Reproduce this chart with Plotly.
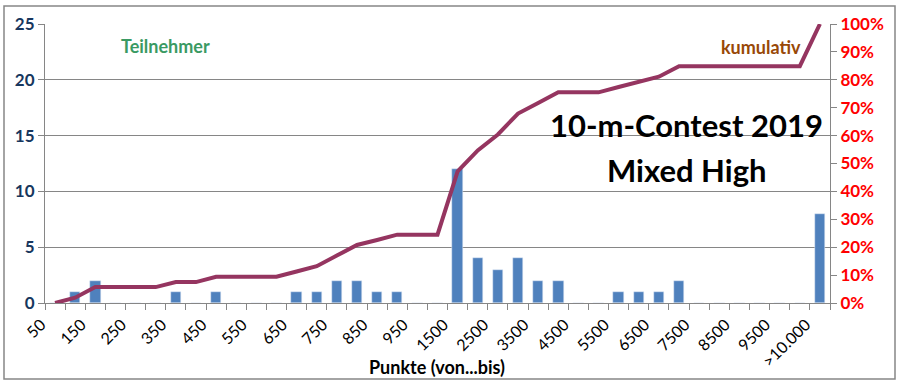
import plotly.graph_objects as go

categories = ["50", "100", "150", "200", "250", "300", "350", "400", "450", "500",
              "550", "600", "650", "700", "750", "800", "850", "900", "950", "1000",
              "1500", "2000", "2500", "3000", "3500", "4000", "4500", "5000", "5500", "6000",
              "6500", "7000", "7500", "8000", "8500", "9000", "9500", "10000", ">10.000"]
teilnehmer = [0, 1, 2, 0, 0, 0, 1, 0, 1, 0,
              0, 0, 1, 1, 2, 2, 1, 1, 0, 0,
              12, 4, 3, 4, 2, 2, 0, 0, 1, 1,
              1, 2, 0, 0, 0, 0, 0, 0, 8]
kumulativ = [0.0, 1.9, 5.7, 5.7, 5.7, 5.7, 7.5, 7.5, 9.4, 9.4,
             9.4, 9.4, 11.3, 13.2, 17.0, 20.8, 22.6, 24.5, 24.5, 24.5,
             47.2, 54.7, 60.4, 67.9, 71.7, 75.5, 75.5, 75.5, 77.4, 79.2,
             81.1, 84.9, 84.9, 84.9, 84.9, 84.9, 84.9, 84.9, 100.0]
left_ticks = [0, 5, 10, 15, 20, 25]
right_ticks = [0, 10, 20, 30, 40, 50, 60, 70, 80, 90, 100]

x = list(range(len(categories)))
FONT = "Lato"
GRID = "#868686"

fig = go.Figure()
fig.add_trace(go.Bar(x=x, y=teilnehmer, marker_color="#4F81BD", width=0.52,
                     name="Teilnehmer", yaxis="y"))
fig.add_trace(go.Scatter(x=x, y=[v / 100 for v in kumulativ], mode="lines",
                         line=dict(color="#953560", width=4), yaxis="y2",
                         cliponaxis=False, name="kumulativ"))

fig.update_layout(
    width=902, height=387,
    margin=dict(l=45, r=72, t=24, b=84),
    paper_bgcolor="white", plot_bgcolor="white",
    showlegend=False,
    bargap=0,
    font=dict(family=FONT),
    xaxis=dict(
        range=[-0.5, len(categories) - 0.5], automargin=False,
        tickmode="array", tickvals=x[::2], ticktext=categories[::2],
        ticklabelshift=-14, ticklabelstandoff=5,
        tickangle=-45, ticks="", showgrid=False, zeroline=False,
        showline=True, linecolor=GRID, linewidth=1,
        tickfont=dict(family=FONT, size=16, color="black"),
        minor=dict(tickmode="linear", tick0=-0.5, dtick=1, ticks="outside",
                   ticklen=6, tickcolor=GRID, showgrid=False),
    ),
    yaxis=dict(
        range=[0, 25], tickmode="array", tickvals=left_ticks, automargin=False,
        ticks="outside", ticklen=6, tickcolor=GRID,
        showgrid=True, gridcolor=GRID, gridwidth=1, zeroline=False,
        showline=True, linecolor=GRID,
        tickfont=dict(family=FONT, size=17, color="#17375E", weight="bold"),
    ),
    yaxis2=dict(
        range=[0, 1], overlaying="y", side="right", automargin=False,
        tickmode="array", tickvals=[v / 100 for v in right_ticks],
        ticktext=[f"{v}%" for v in right_ticks],
        ticks="outside", ticklen=6, tickcolor=GRID,
        showgrid=False, zeroline=False, showline=True, linecolor=GRID,
        tickfont=dict(family=FONT, size=17, color="#FF0000", weight="bold"),
    ),
    shapes=[dict(type="rect", xref="paper", yref="paper",
                 x0=-41 / 785, x1=(895 - 45) / 785,
                 y0=(303 - 379) / 279, y1=(303 - 6) / 279,
                 line=dict(color=GRID, width=1.5), fillcolor="rgba(0,0,0,0)",
                 layer="below")],
    annotations=[
        dict(text="<b>Teilnehmer</b>", xref="paper", yref="paper",
             x=0.154, y=0.921, xanchor="center", yanchor="middle", showarrow=False,
             font=dict(family=FONT, size=18, color="#3A9A63")),
        dict(text="<b>kumulativ</b>", xref="paper", yref="paper",
             x=0.912, y=0.918, xanchor="center", yanchor="middle", showarrow=False,
             font=dict(family=FONT, size=18, color="#984807")),
        dict(text="<b>10-m-Contest 2019</b>", xref="paper", yref="paper",
             x=0.817, y=0.638, xanchor="center", yanchor="middle", showarrow=False,
             font=dict(family=FONT, size=31, color="black")),
        dict(text="<b>Mixed High</b>", xref="paper", yref="paper",
             x=0.818, y=0.477, xanchor="center", yanchor="middle", showarrow=False,
             font=dict(family=FONT, size=31, color="black")),
        dict(text="<b>Punkte (von...bis)</b>", xref="paper", yref="paper",
             x=0.499, y=-0.229, xanchor="center", yanchor="middle", showarrow=False,
             font=dict(family=FONT, size=18, color="black")),
    ],
)

fig.write_html("out.html", config={"displayModeBar": False},
               post_script="document.body.style.margin='0';")
